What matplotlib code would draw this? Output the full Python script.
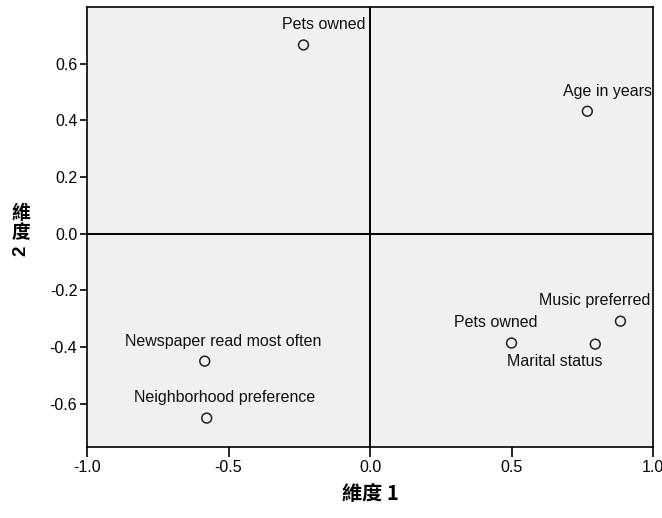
import matplotlib
matplotlib.use("Agg")
import matplotlib.pyplot as plt

labels = ["Pets owned", "Age in years", "Music preferred", "Marital status",
          "Pets owned", "Newspaper read most often", "Neighborhood preference"]
dim1 = [-0.235, 0.768, 0.885, 0.796, 0.500, -0.584, -0.577]
dim2 = [0.666, 0.432, -0.309, -0.390, -0.386, -0.450, -0.651]
# label offsets in pixels (dx, dy)
offsets = [(20, 20), (20, 20), (-26, 21), (-41, -17), (-16, 21), (18, 20), (18, 21)]
xticks = [-1.0, -0.5, 0.0, 0.5, 1.0]
yticks = [-0.6, -0.4, -0.2, 0.0, 0.2, 0.4, 0.6]

plt.rcParams['font.family'] = ['Liberation Sans', 'Noto Sans CJK TC', 'DejaVu Sans']

fig = plt.figure(figsize=(6.62, 5.18), dpi=100)
ax = fig.add_axes([87/662, 1 - 447/518, (653 - 87)/662, (447 - 7)/518])
ax.set_facecolor('#f0f0f0')
ax.set_xlim(-1.0, 1.0)
ax.set_ylim(-0.753, 0.80)

ax.axhline(0, color='black', lw=1.4, zorder=1)
ax.axvline(0, color='black', lw=1.4, zorder=1)

ax.scatter(dim1, dim2, s=50, facecolors='none', edgecolors='#222222', linewidths=1.1, zorder=3)
for lab, x, y, (dx, dy) in zip(labels, dim1, dim2, offsets):
    ax.annotate(lab, (x, y), xytext=(dx, dy), textcoords='offset pixels',
                ha='center', va='center', fontsize=11.5, color='#111111')

ax.set_xticks(xticks)
ax.set_xticklabels([f"{t:.1f}" for t in xticks])
ax.set_yticks(yticks)
ax.set_yticklabels([f"{t:.1f}" for t in yticks])
ax.tick_params(axis='x', length=7, width=1.2, labelsize=11.5, pad=2)
ax.tick_params(axis='y', length=5, width=1.2, labelsize=11.5, pad=2)
for s in ax.spines.values():
    s.set_linewidth(1.2)
    s.set_color('black')

fig.text(370/662, 1 - 493/518, "維度 1", ha='center', va='center', fontsize=14.5,
         fontweight='bold', family=['Noto Sans CJK TC', 'DejaVu Sans'])
fig.text(21/662, 1 - 223/518, "維\n度", ha='center', va='center', fontsize=13.5,
         fontweight='bold', linespacing=1.0, family=['Noto Sans CJK TC', 'DejaVu Sans'])
fig.text(21/662, 1 - 251/518, "2", ha='center', va='center', fontsize=13.5,
         fontweight='bold', rotation=90, family=['Liberation Sans', 'DejaVu Sans'])

fig.savefig("out.png", dpi=100)
